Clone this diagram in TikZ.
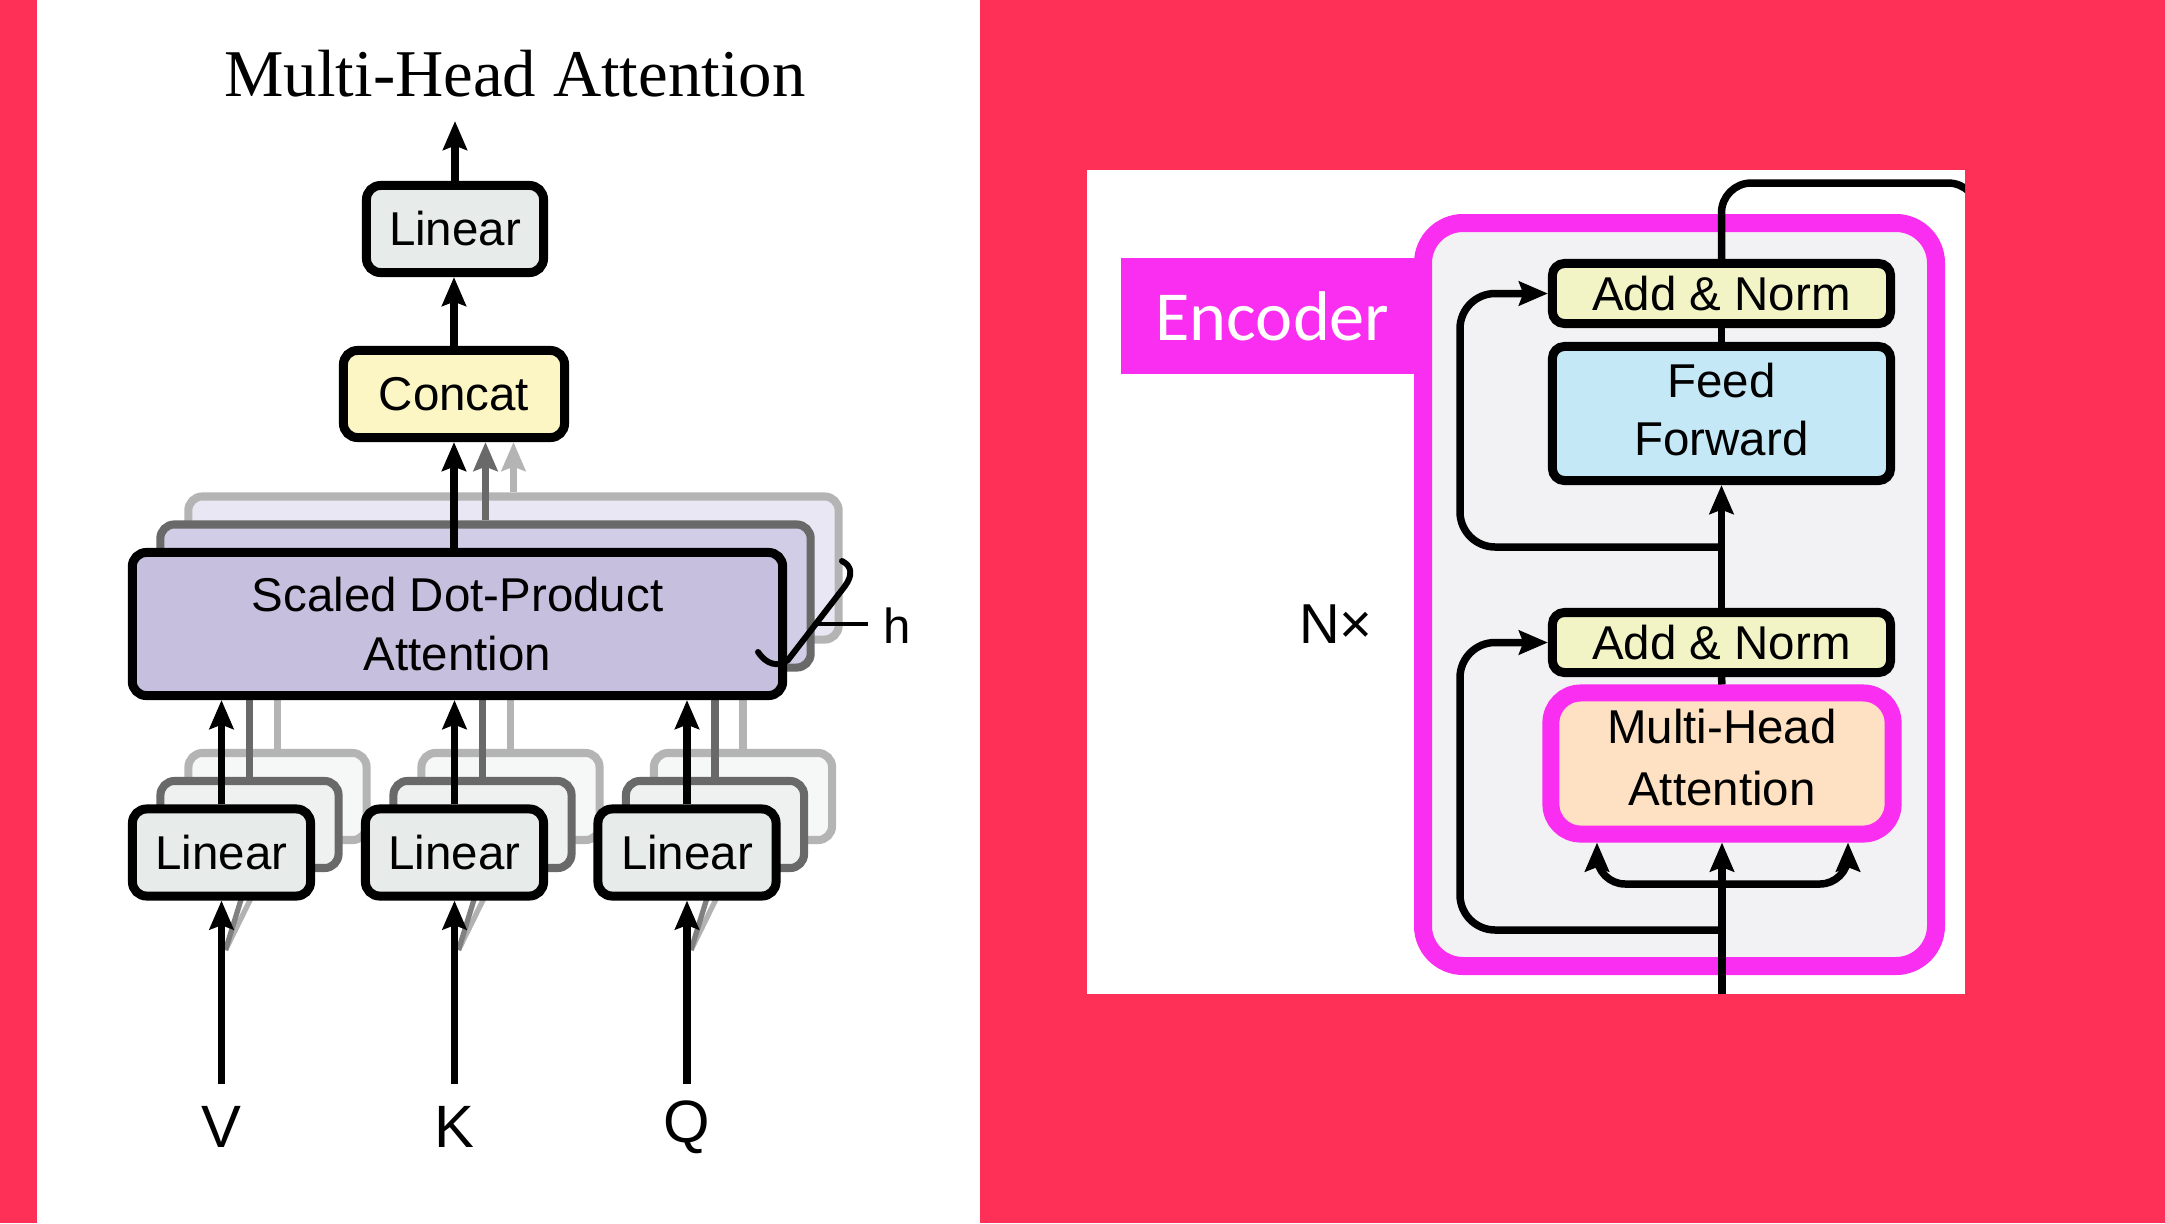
\documentclass[tikz,border=0pt]{standalone}
\usepackage{fontspec}
\setmainfont{Liberation Sans}
\newfontfamily\ttlfont{Liberation Serif}
\newfontfamily\calfont{Carlito}
\usetikzlibrary{arrows.meta}
\definecolor{bgpink}{RGB}{255,48,88}
\definecolor{mag}{RGB}{250,46,240}
\definecolor{encgray}{RGB}{242,242,244}
\definecolor{anfill}{RGB}{242,244,198}
\definecolor{fffill}{RGB}{197,232,246}
\definecolor{mhafill}{RGB}{253,225,194}
\definecolor{linfill}{RGB}{231,236,234}
\definecolor{linfillB}{RGB}{238,241,240}
\definecolor{linfillC}{RGB}{246,248,247}
\definecolor{catfill}{RGB}{252,246,196}
\definecolor{sdpfill}{RGB}{198,192,222}
\definecolor{sdpfillB}{RGB}{210,205,230}
\definecolor{sdpfillC}{RGB}{233,231,243}
\definecolor{shB}{RGB}{105,105,105}
\definecolor{shC}{RGB}{180,180,180}
\tikzset{
  lbl/.style={font=\fontsize{13.5}{17}\selectfont, align=center, inner sep=0pt, text=black},
  blk/.style={lbl, draw=black, line width=2.56pt, rounded corners=4pt},
  linbox/.style={blk, fill=linfill, minimum width=1.78cm, minimum height=0.87cm},
  shadowB/.style={draw=shB, line width=2.3pt, rounded corners=4pt, inner sep=0pt},
  shadowC/.style={draw=shC, line width=2.3pt, rounded corners=4pt, inner sep=0pt},
  linB/.style={shadowB, fill=linfillB, minimum width=1.78cm, minimum height=0.87cm},
  linC/.style={shadowC, fill=linfillC, minimum width=1.78cm, minimum height=0.87cm},
  sdpB/.style={shadowB, fill=sdpfillB, minimum width=6.5cm, minimum height=1.43cm},
  sdpC/.style={shadowC, fill=sdpfillC, minimum width=6.5cm, minimum height=1.43cm},
  arr/.style={line width=2.13pt, -{Stealth[length=8.2pt, width=6.8pt, inset=1.2pt]}},
  ln/.style={line width=2.13pt},
  rbox/.style={blk, rounded corners=3.4pt, minimum width=3.38cm},
}
\begin{document}
\begin{tikzpicture}[x=0.01cm, y=-0.01cm]
\useasboundingbox (0,0) rectangle (2165,1223);
\fill[bgpink] (0,0) rectangle (2165,1223);
\fill[white] (37,0) rectangle (980,1223);
\fill[white] (1087,170) rectangle (1965,994);

% ---------------- left: Multi-Head Attention ----------------
\node[font=\ttlfont\fontsize{19}{23}\selectfont, anchor=base, inner sep=0pt] (title) at (515,96) {Multi-Head Attention};

\node[sdpC] (sdpaC) at (513.5,568) {};
\node[sdpB] (sdpaB) at (485.5,596) {};
\coordinate (sdpbot) at (457.5,700);

\foreach \nm/\cx in {V/221.5,K/454.5,Q/687} {
  \node[linC] (lin\nm C) at (\cx+56,796.5) {};
  \node[linB] (lin\nm B) at (\cx+28,824.5) {};
  \coordinate (in\nm) at (\cx,1084);
  \coordinate (sh\nm) at (\cx+4,950);
}
\foreach \nm in {V,K,Q} {
  \draw[line width=2pt, shC] (lin\nm C.north) -- (lin\nm C.north |- sdpbot);
  \draw[line width=2pt, shB] (lin\nm B.north) -- (lin\nm B.north |- sdpbot);
  \draw[line width=1.5pt, black!30] (sh\nm) -- (lin\nm C.south);
  \draw[line width=1.5pt, black!50] (sh\nm) -- (lin\nm B.south);
}

\node[blk, fill=sdpfill, minimum width=6.5cm, minimum height=1.43cm] (sdpa) at (457.5,624) {Scaled Dot-Product\\Attention};

\foreach \nm/\cx in {V/221.5,K/454.5,Q/687} {
  \node[linbox] (lin\nm) at (\cx,852.5) {Linear};
  \node[font=\fontsize{17}{20}\selectfont, inner sep=0pt] (lab\nm) at (\cx,1127) {\nm};
}
\foreach \nm in {V,K,Q} {
  \draw[arr] (lin\nm.north) -- (lin\nm.north |- sdpa.south);
  \draw[arr] (in\nm) -- (lin\nm.south);
}

\node[blk, fill=catfill, minimum width=2.21cm, minimum height=0.87cm] (concat) at (454,394) {Concat};
\node[linbox, minimum width=1.77cm] (lintop) at (455,229) {Linear};
\coordinate (out) at (455,121);
\draw[arr] (lintop.north) -- (out);
\draw[arr] (concat.north) -- (concat.north |- lintop.south);
\draw[arr] (concat.south |- sdpa.north) -- (concat.south);
\draw[arr, shB] (sdpaB.north) -- (sdpaB.north |- concat.south);
\draw[arr, shC] (sdpaC.north) -- (sdpaC.north |- concat.south);

% h bracket
\draw[line width=1.7pt, line cap=round] (758,652) .. controls (766,664) and (778,668) .. (788,660) -- (845,586) .. controls (853,575) and (852,566) .. (842,561);
\node[font=\fontsize{14}{17}\selectfont, inner sep=0pt] (hlab) at (897,626) {h};
\draw[line width=1.1pt] (816,624) -- (868,624);

% ---------------- right: Encoder ----------------
\draw[line width=5.12pt, draw=mag, fill=encgray, rounded corners=11.4pt] (1423,223) rectangle (1936,966);
\node[fill=mag, text=white, inner sep=0pt, minimum width=3.03cm, minimum height=1.16cm,
      font=\calfont\fontsize{20}{24}\selectfont] (enclab) at (1272.5,316) {Encoder};

\node[font=\fontsize{16}{19}\selectfont, inner sep=0pt] (nx) at (1336,624) {N×};

\node[rbox, fill=anfill, minimum height=0.60cm] (anB) at (1721.5,293.5) {Add \& Norm};
\node[rbox, fill=fffill, minimum height=1.34cm, text depth=2.6pt, font=\fontsize{13.5}{16.5}\selectfont] (ff) at (1721.5,413.5) {Feed\\Forward};
\node[rbox, fill=anfill, minimum height=0.60cm] (anA) at (1721.5,642.5) {Add \& Norm};
\node[lbl, draw=mag, line width=4.84pt, fill=mhafill, rounded corners=8.5pt, minimum width=3.42cm, minimum height=1.41cm, text depth=3.4pt, font=\fontsize{13.5}{17.5}\selectfont] (mha) at (1722,763.5) {Multi-Head\\Attention};

\coordinate (encin) at (1722,994);
\coordinate (brc) at (1722,884);
\coordinate (bl) at (1597,884);
\coordinate (br) at (1848,884);
\coordinate (ra) at (1722,930);
\coordinate (rac) at (1460,930);
\coordinate (rb) at (1722,547);
\coordinate (rbc) at (1460,547);
\coordinate (tc) at (1722,183);
\coordinate (tcr) at (1978,183);
\coordinate (tce) at (1978,280);

\draw[arr] (encin) -- (mha.south -| encin);
\draw[arr, rounded corners=8pt] (brc) -- (bl) -- (bl |- mha.south);
\draw[arr, rounded corners=8pt] (brc) -- (br) -- (br |- mha.south);
\draw[arr, rounded corners=10pt] (ra) -- (rac) -- (rac |- anA.west) -- (anA.west);
\draw[ln] (mha.north) -- (anA.south);
\draw[arr] (anA.north) -- (ff.south);
\draw[arr, rounded corners=10pt] (rb) -- (rbc) -- (rbc |- anB.west) -- (anB.west);
\draw[ln] (ff.north) -- (anB.south);
\begin{scope}
  \clip (1087,170) rectangle (1965,994);
  \draw[ln, rounded corners=8.5pt] (anB.north) -- (anB.north |- tc) -- (tcr) -- (tce);
\end{scope}
\end{tikzpicture}
\end{document}
